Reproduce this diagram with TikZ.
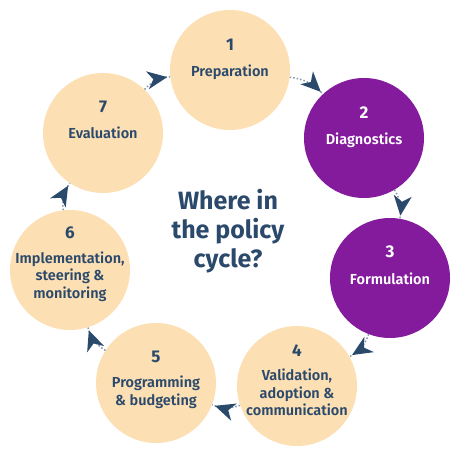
\documentclass[tikz,border=0pt]{standalone}
\usepackage{fontspec}
\setmainfont{Fira Sans}
\newfontfamily\semifont{Fira Sans SemiBold}
\usetikzlibrary{arrows.meta,positioning,decorations.markings}
\definecolor{Melocoton}{RGB}{253,223,180}
\definecolor{Morado}{RGB}{132,27,157}
\definecolor{Marino}{RGB}{43,74,107}
\definecolor{Punteado}{RGB}{130,150,172}
\tikzset{
  etapa/.style={circle, fill=#1, minimum size=120pt, inner sep=0pt},
  etapa/.default=Melocoton,
  numlabel/.style={font=\fontsize{17}{17}\selectfont\bfseries, text=#1, inner sep=0pt},
  numlabel/.default=Marino,
  textlabel/.style={font=\semifont\fontsize{14.5}{17.5}\selectfont, text=#1,
    align=center, inner sep=0pt},
  textlabel/.default=Marino,
  titulo/.style={font=\fontsize{25}{29}\selectfont\bfseries, text=Marino,
    align=center, inner sep=0pt},
  cyclearr/.style={Punteado, line width=1.5pt, dotted, bend left=#1,
    postaction={decorate}, decoration={markings,
      mark=at position -3pt with {\arrow{Stealth[length=20pt, width=18pt, inset=6pt, color=Marino]}}}},
  cyclearr/.default=20,
}

\begin{document}
\begin{tikzpicture}[x=1pt, y=1pt]
  \useasboundingbox (0,0) rectangle (460,460);
  % etapas del ciclo
  \node[etapa] (c1) at (230,390) {};
  \node[etapa=Morado] (c2) at (364,322) {};
  \node[etapa=Morado] (c3) at (390,182) {};
  \node[etapa] (c4) at (297,74) {};
  \node[etapa] (c5) at (156,77) {};
  \node[etapa] (c6) at (70,190) {};
  \node[etapa] (c7) at (103,327) {};

  \node[numlabel] (n1) at ([yshift=25pt]c1.center) {1};
  \node[textlabel, below=14pt of n1] (t1) {Preparation};
  \node[numlabel=white] (n2) at ([yshift=25pt]c2.center) {2};
  \node[textlabel=white, below=14pt of n2] (t2) {Diagnostics};
  \node[numlabel=white] (n3) at ([yshift=26pt]c3.center) {3};
  \node[textlabel=white, below=14pt of n3] (t3) {Formulation};
  \node[numlabel] (n4) at ([yshift=35pt]c4.center) {4};
  \node[textlabel, below=12pt of n4] (t4) {Validation,\\adoption \&\\communication};
  \node[numlabel] (n5) at ([yshift=26pt]c5.center) {5};
  \node[textlabel, below=13pt of n5] (t5) {Programming\\\& budgeting};
  \node[numlabel] (n6) at ([yshift=37pt]c6.center) {6};
  \node[textlabel, below=12pt of n6] (t6) {Implementation,\\steering \&\\monitoring};
  \node[numlabel] (n7) at ([yshift=26pt]c7.center) {7};
  \node[textlabel, below=14pt of n7] (t7) {Evaluation};

  \node[titulo] (pregunta) at (228,229) {Where in\\the policy\\cycle?};

  % flechas del ciclo
  \draw[cyclearr] (c1) to (c2);
  \draw[cyclearr] (c2) to (c3);
  \draw[cyclearr] (c3) to (c4);
  \draw[cyclearr] (c4) to (c5);
  \draw[cyclearr] (c5) to (c6);
  \draw[cyclearr] (c6) to (c7);
  \draw[cyclearr] (c7) to (c1);
\end{tikzpicture}
\end{document}
